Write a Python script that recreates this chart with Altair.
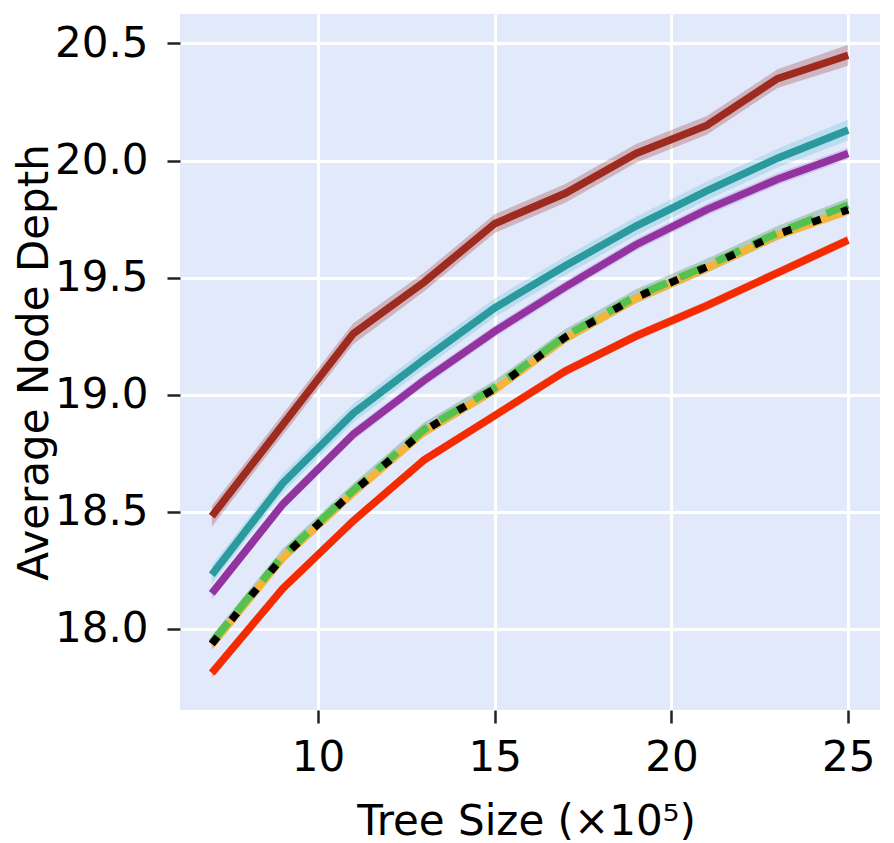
import altair as alt
import pandas as pd

# Tree size (x10^5)
x_vals = [7, 9, 11, 13, 15, 17, 19, 21, 23, 25]

series_names = ["brown", "teal", "purple", "red", "orange", "green", "black"]

brown_mean = [18.48, 18.87, 19.26, 19.48, 19.73, 19.86, 20.03, 20.15, 20.35, 20.45]
teal_mean = [18.23, 18.62, 18.92, 19.15, 19.37, 19.55, 19.72, 19.87, 20.01, 20.13]
purple_mean = [18.15, 18.53, 18.83, 19.06, 19.27, 19.46, 19.64, 19.79, 19.92, 20.03]
green_mean = [17.94, 18.31, 18.59, 18.85, 19.03, 19.25, 19.42, 19.55, 19.69, 19.81]
orange_mean = [17.93, 18.30, 18.58, 18.84, 19.02, 19.24, 19.41, 19.54, 19.68, 19.785]
black_mean = [17.935, 18.305, 18.585, 18.845, 19.025, 19.245, 19.415, 19.545, 19.685, 19.79]
red_mean = [17.81, 18.17, 18.46, 18.72, 18.91, 19.10, 19.25, 19.38, 19.52, 19.66]

# band half widths (std) read from the shaded regions
brown_std = [0.045, 0.045, 0.045, 0.04, 0.04, 0.04, 0.04, 0.04, 0.04, 0.045]
teal_std = [0.04, 0.04, 0.04, 0.04, 0.04, 0.04, 0.04, 0.04, 0.04, 0.045]
purple_std = [0.025, 0.025, 0.025, 0.025, 0.025, 0.025, 0.025, 0.025, 0.025, 0.025]
green_std = [0.03, 0.03, 0.03, 0.03, 0.03, 0.03, 0.03, 0.03, 0.03, 0.03]
orange_std = [0.02, 0.02, 0.02, 0.02, 0.02, 0.02, 0.02, 0.02, 0.02, 0.02]
black_std = [0.0, 0.0, 0.0, 0.0, 0.0, 0.0, 0.0, 0.0, 0.0, 0.0]
red_std = [0.02, 0.02, 0.02, 0.02, 0.02, 0.02, 0.02, 0.02, 0.02, 0.02]

means = {"brown": brown_mean, "teal": teal_mean, "purple": purple_mean, "green": green_mean,
         "orange": orange_mean, "black": black_mean, "red": red_mean}
stds = {"brown": brown_std, "teal": teal_std, "purple": purple_std, "green": green_std,
        "orange": orange_std, "black": black_std, "red": red_std}

colors = {"brown": "#9E2B1F", "teal": "#2A9A9E", "purple": "#9233A0", "green": "#55C24F",
          "orange": "#F7B538", "black": "#000000", "red": "#F42A00"}
band_colors = {"brown": "#9E2B1F", "teal": "#5FC0D0", "purple": "#A060C8", "green": "#2E7D32",
               "orange": "#F7B538", "black": "#000000", "red": "#F42A00"}
dashes = {"green": [26, 14], "black": [9, 22]}

rows = []
for s in series_names:
    for xv, m, sd in zip(x_vals, means[s], stds[s]):
        rows.append({"series": s, "x": xv, "y": m, "lo": m - sd, "hi": m + sd})
df = pd.DataFrame(rows)

W, H = 700, 696
xscale = alt.Scale(domain=[6.1, 25.9], nice=False, zero=False)
yscale = alt.Scale(domain=[17.652, 20.626], nice=False, zero=False)

xaxis = alt.Axis(values=[10, 15, 20, 25], format="d", title="Tree Size (×10⁵)",
                 titleX=346, titleY=124, titleBaseline="alphabetic", titleAnchor="middle",
                 labelPadding=14, tickSize=13)
yaxis = alt.Axis(values=[18.0, 18.5, 19.0, 19.5, 20.0, 20.5], format=".1f",
                 title="Average Node Depth", titleX=-133, titleY=348, titleAngle=270,
                 titleBaseline="alphabetic", titleAlign="center",
                 labelPadding=19, tickSize=13)

layers = []
base = alt.Chart(df)
for s in series_names:
    if s == "black":
        continue
    band = base.transform_filter(alt.datum.series == s).mark_area(
        color=band_colors[s], opacity=0.28, interpolate="linear"
    ).encode(
        x=alt.X("x:Q", scale=xscale, axis=xaxis),
        y=alt.Y("lo:Q", scale=yscale, axis=yaxis),
        y2="hi:Q",
    )
    layers.append(band)

for s in series_names:
    kw = dict(color=colors[s], strokeWidth=7.5, strokeCap="butt")
    if s in dashes:
        kw["strokeDash"] = dashes[s]
    line = base.transform_filter(alt.datum.series == s).mark_line(**kw).encode(
        x=alt.X("x:Q", scale=xscale, axis=xaxis),
        y=alt.Y("y:Q", scale=yscale, axis=yaxis),
    )
    layers.append(line)

chart = alt.layer(*layers).properties(
    width=W, height=H,
    autosize=alt.AutoSizeParams(type="none"),
    padding={"left": 172, "top": 6, "right": 6, "bottom": 133},
).configure_view(
    fill="#E1E9FB", stroke=None
).configure_axis(
    grid=True, gridColor="#FFFFFF", gridWidth=3, domain=False,
    tickColor="#222222", tickWidth=2.5,
    labelFont="DejaVu Sans", labelFontSize=42, labelColor="#000000",
    titleFont="DejaVu Sans", titleFontSize=42, titleColor="#000000", titleFontWeight="normal",
)

chart.save("out.html", embed_options={"renderer": "svg", "actions": False})
